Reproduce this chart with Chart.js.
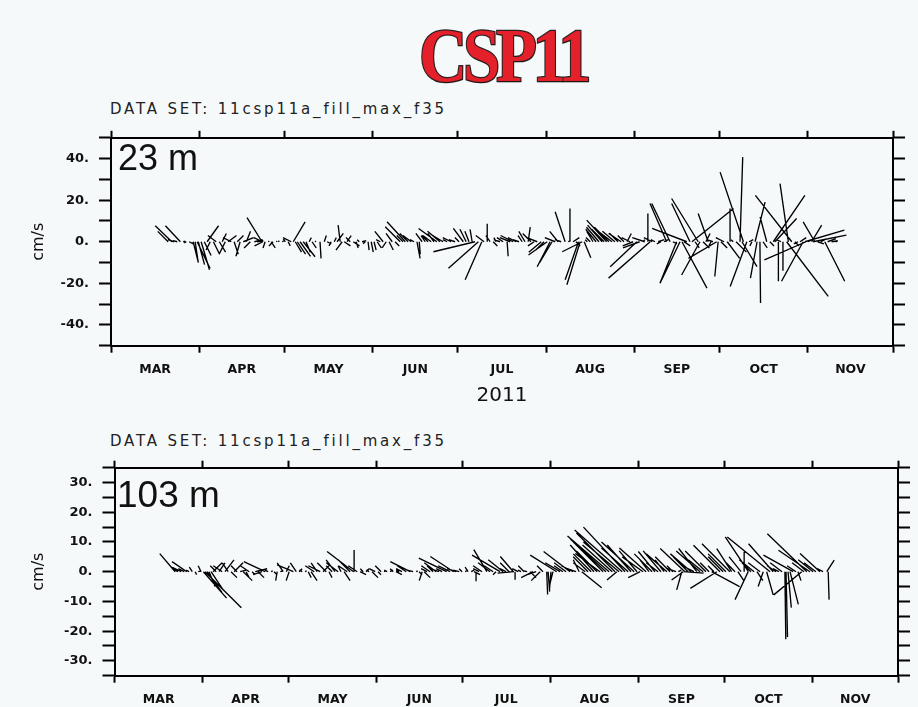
<!DOCTYPE html>
<html><head><meta charset="utf-8">
<script src="https://cdn.jsdelivr.net/npm/chart.js@4.4.1/dist/chart.umd.min.js"></script>
<style>
html,body{margin:0;padding:0;background:#f6f9fa;width:918px;height:707px;overflow:hidden;position:relative;}
.abs{position:absolute;white-space:nowrap;}
#title{left:503px;top:17px;font-family:"Liberation Serif",serif;font-weight:bold;font-size:77px;line-height:77px;color:#e4202a;letter-spacing:-5px;
  -webkit-text-stroke:2.4px #2b2323;paint-order:stroke fill;transform:translateX(-50%) scaleX(0.87);text-shadow:1px 1px 1px rgba(0,0,0,0.35);}
.ds{font-family:"DejaVu Sans",sans-serif;font-size:15px;line-height:15px;letter-spacing:2.8px;color:#222;}
.depth{font-family:"Liberation Sans",Arial,sans-serif;font-size:36px;line-height:36px;color:#111;}
canvas{display:block;}
</style></head><body>
<div id="title" class="abs">CSP11</div>
<div class="abs ds" style="left:110px;top:102px">DATA SET: 11csp11a_fill_max_f35</div>
<div class="abs ds" style="left:110px;top:434px">DATA SET: 11csp11a_fill_max_f35</div>
<div class="abs" style="left:0;top:120px;"><canvas id="c1" width="918" height="290"></canvas></div>
<div class="abs" style="left:0;top:440px;"><canvas id="c2" width="918" height="267"></canvas></div>
<div class="abs depth" style="left:118px;top:140px">23 m</div>
<div class="abs depth" style="left:117px;top:476px;font-size:37px;line-height:37px">103 m</div>
<script>
// ---- axis categories (days since 1 Mar 2011) ----
const monthStarts = [0, 31, 61, 92, 122, 153, 184, 214, 245, 275];
const monthLabels = ['MAR', 'APR', 'MAY', 'JUN', 'JUL', 'AUG', 'SEP', 'OCT', 'NOV'];
const yearLabel = '2011';
const unitsLabel = 'cm/s';

// ---- 23 m series: stick base day, east (u) and north (v) components, cm/s ----
const days23 = [20.1,21.4,22.2,23.3,24.4,25.4,26.5,27.5,28.9,29.6,30.3,30.7,31.7,32.8,33.8,34.9,36.0,37.0,38.1,39.1,40.2,41.2,42.3,43.3,44.4,45.4,46.5,47.6,49.0,50.4,51.4,53.1,53.2,53.4,54.2,55.3,56.3,57.0,58.1,59.2,60.2,61.3,62.3,63.4,64.1,64.8,65.5,66.5,67.6,68.6,69.7,70.7,72.1,73.5,75.0,76.0,77.4,78.5,79.5,80.6,81.3,82.0,83.0,84.1,85.2,86.2,87.3,88.3,89.4,90.4,91.5,92.5,93.6,94.7,95.7,96.8,97.8,98.9,99.9,101.7,102.7,103.5,104.5,105.6,106.6,107.6,108.4,109.4,110.5,111.5,112.6,113.6,114.6,115.7,116.8,118.2,119.6,121.0,122.4,123.9,124.9,125.9,127.0,128.0,129.2,130.4,131.2,132.3,133.3,134.4,135.4,136.8,137.9,139.3,140.4,141.4,142.5,143.5,144.6,145.6,146.7,147.7,148.8,149.9,151.3,152.3,153.4,154.4,155.1,156.2,157.2,158.3,159.7,160.8,161.4,162.5,163.5,164.4,165.0,165.7,166.4,167.5,168.5,169.5,170.6,171.6,172.7,173.4,174.3,175.1,176.2,177.2,178.3,179.4,180.4,181.5,182.5,183.6,184.9,185.9,187.0,187.7,188.8,189.6,190.3,191.3,192.4,193.4,194.5,195.4,196.6,197.6,198.9,200.1,200.8,201.5,202.5,203.6,204.3,205.4,206.5,207.1,208.2,209.2,210.0,211.0,211.7,213.0,213.5,214.5,215.6,216.7,217.7,218.8,219.8,221.2,221.9,222.4,223.6,224.4,225.4,226.5,227.2,228.2,229.3,230.6,231.7,232.9,233.5,234.7,235.6,236.3,237.6,238.2,239.4,240.5,241.6,242.3,243.4,244.0,244.4,245.1,246.4,246.9,247.5,248.5,249.6,251.0,252.0,253.4,254.8];
const u23 = [-5,-8,-3,-2,-7.2,1,-1,2,2.4,1.5,6.2,3,4,3.3,5.5,-2,3,-4,3,2,-3,4,-4,2,3,-2,5,2,-3,4,3,-7.2,-4,-4,-1,0.5,2,-2,0.5,-0.5,1,-1,1,-4,5.7,3,4,5,5.7,2,1,2,-0.5,0.5,1,2,-1,1,3,-1,-3,3,2,-2,3,1,-1,2,-1,0.5,1,1,2,-2,-4,-2,2,-3,2,-7.2,-3,-8.8,-4,-4,-2,1.5,0.5,-3,-2,-3,-4,-3,-8.8,-6,-5,-2,-4,-3,-2,-4.8,-3,-2,-1,-20,-14.4,-8,-4,0,-2,2,-1,-3,-3,0.5,-5,-6,-4,-3,-2,-3,1,-4,-3,-5,-6,-4,-9,-6.2,-6,-5,-4,-3,-4.8,1,0,3,2,-6.4,-6.4,-9.6,3.2,-1,-2,-3,-5,-6,-7,-6,-9.6,-7,-8,-6,-4,-6,-3,2,-4,-5,-12.8,-8,1,-6,0,-20,-4,-2,3,-2,2,-8,-8.8,2,-8,-9.6,12,3,-16.7,-8.8,20,2,-12.8,-8.8,3,2,-4.8,-1,-3,-13.6,-1.6,3,-4,6,0,-1,5,1.3,7.2,-11.2,-8,2,-1,4.8,-3.2,0.3,2,-3.2,2,15.2,10.4,0,-2,0,20,-4,-17.5,2,-2,3,-10.4,19,-20,2,4.8,16,-5.6,3,2,9.6,4,3,1];
const v23 = [5,7.7,1,0.5,7.7,0.3,-0.5,-1,-9.7,-10,-12.8,-11,-13.5,-6.6,7.7,-4,-6,3,-5,4,-6,3,2,-6,3,-7,2,5,-3,1,0.5,11.6,2,-2,-3,0.3,-3,-2,0.3,0.5,0.5,1.5,-2,2,9.6,-5,-6,-7,-7.2,-5,2,-3,0.3,-8,3,-1,-2,2,4,8,-4,-2,3,2,-2,-3,1,0.5,-1,-4,-5,-4,-3,1,5,-3,-4,4,-2,7.2,3,9.6,4,3,1,-8,-6,4,3,3,3,4,6.4,5,3,1,2,1,2,6.4,6,5,6,-4.8,-12.8,-18.3,3,8.6,3,-2,2,1,2,-7,2,3,2,1,3,5,7,4,-2,2,-5,-4,-6.4,-12,-10,2,5,1,14.4,0.5,16,2,-2,-18.3,-20.7,-4.8,-7.7,1,2,5,6,7,8,6,10.4,7,6,5,4,4,3,4,2,-2,-12,-3,1,2,13.6,-17.5,2,1,1,-1,1,18.4,18.4,-1,-20,-20,-22.3,-2,6.4,18.4,16,-3,20.8,-16,-3,4,13.6,-2,1,-8,-16.7,-3,2,-8,16,1,-5,40.7,-12,33.5,-21.5,1,-2,19.1,-17.5,-29.5,-3,12,-2,22.3,11.2,-19,1,-14,-26.3,28,22.3,-2,-1,2,-19,5.6,-8.7,1,8,3.2,9.6,-1,1,-19,1.5,0.5,0.3];

// ---- 103 m series ----
const days103 = [21.3,22.3,23.4,24.5,25.4,26.2,27.3,28.3,29.4,30.4,31.2,31.8,32.5,33.2,33.9,34.6,35.7,36.7,37.8,38.8,39.9,40.9,42.0,43.0,44.1,45.2,46.2,47.3,48.3,49.4,50.4,51.8,52.9,53.9,55.0,56.0,57.1,58.2,59.2,60.3,61.3,62.8,63.8,64.8,65.9,66.9,68.0,69.0,70.1,71.1,72.2,73.2,74.3,75.3,76.4,77.4,78.5,79.5,80.6,81.7,82.7,83.9,84.1,85.2,86.2,87.3,88.3,89.4,90.4,91.5,92.5,93.6,94.6,95.7,96.7,97.8,98.8,99.9,100.9,102.4,103.8,104.8,105.9,106.9,108.0,108.7,109.7,110.8,111.8,112.9,113.9,115.0,116.6,117.8,119.0,119.9,121.0,122.0,123.1,124.1,125.2,126.2,126.9,128.0,129.0,130.7,131.8,132.9,133.9,135.3,136.4,137.4,138.5,140.0,140.2,140.6,141.7,142.7,143.8,144.8,145.9,146.9,148.0,149.4,150.4,151.7,152.2,153.2,153.9,155.2,156.4,157.4,158.5,159.9,161.0,162.0,163.1,164.0,165.2,166.2,167.3,168.3,169.4,170.4,171.5,172.5,173.6,174.7,175.7,176.3,177.1,178.2,179.2,180.3,181.3,182.4,183.4,184.5,185.5,186.6,187.6,188.7,189.7,190.8,191.8,192.9,193.9,195.0,196.0,197.1,197.9,199.1,199.6,199.8,200.2,201.3,202.4,203.4,204.4,205.5,206.6,207.6,208.7,209.6,210.4,211.4,212.5,213.6,214.6,216.0,216.6,217.8,218.8,219.9,221.0,222.4,222.5,223.4,224.5,225.5,226.6,227.7,228.9,230.1,231.2,232.2,233.2,234.3,235.3,235.7,236.4,237.1,238.2,239.2,239.9,241.2,242.0,243.0,244.1,245.2,246.2,247.6,248.7,250.0,250.5];
const u103 = [-5.2,-2,-3,-2,-5,-1,-1,0.5,1,-1,7.8,12.2,5,2,4,3,-2,2,-3,3,-2,2,3,-2,2,3,1,-3,1,4,2,-3,-7.2,-1,0.5,1,-0.5,1,-2,1,-1,-5.5,-2,1,-1,0.5,1,2,-3,-2,-4,2,-3,1,-2,-3,-4,-1,2,-3,-4,-8.9,0,-3,2,-1,1,-1,2,-2,1,-2,0.5,-1,1,-1,2,-1,-2,-3,-6.7,-2,0.5,1,-1,2,-2,-3,-2,-4,-3,-2,-9.4,-4,-7.8,-3,-2,-1,0.5,-1,1,2,0,-2,-3,-4.4,-4,-3,-1,-9.4,-5,-2,-3,-4.4,-5.5,0,-2,-1,-2,-1,2,-4,-3,-3,-2,0.3,0.5,-0.5,-1,-8.9,-5,-3,-4,-8.9,-4,-3,-2,6.7,-4,-5,-6,-8,-7,-8.3,-10,-12,-14,-10,-13,-3.3,-12,-16,-14,-9,-8,-11,-6,-4,-7,-9,-3,-6,-5.6,-4,-6,-3,-7,-5,-2,-3,1,-1.7,-3.9,6.7,-8.3,-5,-7,-4,-6.1,-8,-5,-7,-3,9.4,-2,-8.9,-8.9,-5,-6,-9.4,-5,-3,2,-4,0,-4.4,-7.8,-3,-5,2,-4,-1.7,2.2,-14.4,-8.3,-3,-2,-4,0.3,0.5,1.1,2.8,-10,-3,1,-9.4,-4,-13.3,-10.6,-5,-4,-6.7,-2,2.5,0.3];
const v103 = [6.1,1,1.5,1,3.4,0.5,1.5,-1,0.3,2,-8.9,-12.1,-7,-5,-6,3,2,3,2,4,3,-2,3,2,0.5,-3,-2,2,-1,1,-2,-1,3.4,0.5,0.3,-1,-3,0.3,3,2,-3,2.3,3,1,0.5,0.3,-2,-3,2,3,2,2,3,-2,2,4,3,2,-3,2,4,6.8,7.3,2,-1,1,1,0.5,-2,1,-1,2,0.3,0.5,0.5,1,-1,0.5,1,2,3.4,0.5,0.3,-1,-3,-2,1,2,2,3,1,1,4.6,2,5.1,1,0.5,1,0.3,1.5,0.5,-1,-3.2,1,2,7.4,3,2,-1,5.6,4,1,3,5.1,-0.5,-2.7,1,0.5,2,0.3,-2,-2,-1,-3,2,-7.7,-6.7,-6,-4,5.6,3,2,3,6.8,2,1,4,-5.4,3,5,6,9,7,6.1,10,11,12,9,13,-2.8,10,14,15,8,9,10,7,-2,5,8,4,6,6.8,3,7,4,6,5,2,1,0.5,-6.1,-2.8,-0.5,7.8,5,6,2,7.8,7,4,7,3,-5,2,-5.6,8.9,5,6,9.4,7.8,3,-3,5,6.7,-9.4,11.7,3,4,-3,3,-5,-7.8,11.7,9.4,2,1,3,-22.7,-22,-12.1,-11,5.6,2,-3,-7.8,3,12.8,7.2,4,3,6.1,1,3.9,-9.4];

function buildSticks(days, u, v, k) {
  const pts = [];
  for (let i = 0; i < days.length; i++) {
    pts.push({x: days[i], y: 0});
    pts.push({x: days[i] + u[i] * k, y: v[i]});
    pts.push({x: days[i], y: null});
  }
  return pts;
}

const tickFont = {family: 'DejaVu Sans', weight: 'bold', size: 13};
const monthFont = {family: 'DejaVu Sans', weight: 'bold', size: 12.5};

function makePanel(id, cfg) {
  const mids = monthLabels.map((m, i) => (monthStarts[i] + monthStarts[i + 1]) / 2);
  const allTicks = monthStarts.concat(mids).sort((a, b) => a - b);
  const gridBase = {display: true, drawOnChartArea: false, drawTicks: true, color: '#000', tickWidth: 2, tickColor: '#000'};
  const border = {display: true, color: '#000', width: 2};
  const chart = new Chart(document.getElementById(id), {
    type: 'line',
    data: {datasets: [{data: [], borderColor: '#000', borderWidth: 1.35, pointRadius: 0, tension: 0, fill: false, spanGaps: false, xAxisID: 'x', yAxisID: 'y'}]},
    options: {
      responsive: false, animation: false, events: [],
      layout: {padding: 0},
      plugins: {legend: {display: false}, tooltip: {enabled: false}},
      scales: {
        x: {
          type: 'linear', position: 'bottom', min: 0, max: 275,
          afterBuildTicks: s => { s.ticks = allTicks.map(v => ({value: v})); },
          afterFit: s => { s.height = cfg.bottomH; },
          ticks: {autoSkip: false, maxRotation: 0, minRotation: 0, padding: cfg.monthPad, font: monthFont, color: '#111',
            callback: v => { const i = mids.indexOf(v); return i >= 0 ? monthLabels[i] : ''; }},
          grid: Object.assign({}, gridBase, {tickLength: 7,
            tickColor: c => (c.tick && monthStarts.includes(c.tick.value)) ? '#000' : 'rgba(0,0,0,0)'}),
          border: border,
          title: {display: cfg.showYear, text: yearLabel, font: {family: 'DejaVu Sans', size: 20}, color: '#111', padding: {top: 0, bottom: cfg.yearPad}}
        },
        xTop: {
          type: 'linear', position: 'top', min: 0, max: 275,
          afterBuildTicks: s => { s.ticks = monthStarts.map(v => ({value: v})); },
          afterFit: s => { s.height = cfg.topH; },
          ticks: {display: false, autoSkip: false},
          grid: Object.assign({}, gridBase, {tickLength: 7}),
          border: border
        },
        y: {
          type: 'linear', position: 'left', min: cfg.yMin, max: cfg.yMax,
          afterFit: s => { s.width = cfg.leftW; },
          ticks: {autoSkip: false, stepSize: cfg.yStep, padding: cfg.yPad, font: tickFont, color: '#111',
            callback: v => (Math.abs(v % cfg.yLabelStep) < 1e-6 && Math.abs(v) < cfg.yMax) ? v + '.' : ''},
          grid: Object.assign({}, gridBase, {tickLength: 12}),
          border: border,
          title: {display: true, text: unitsLabel, font: {family: 'DejaVu Sans', size: 16}, color: '#111', padding: {top: cfg.unitsPad, bottom: 0}}
        },
        yRight: {
          type: 'linear', position: 'right', min: cfg.yMin, max: cfg.yMax,
          afterFit: s => { s.width = cfg.rightW; },
          ticks: {display: false, autoSkip: false, stepSize: cfg.yStep},
          grid: Object.assign({}, gridBase, {tickLength: 12}),
          border: border
        }
      }
    }
  });
  const xs = chart.scales.x, ys = chart.scales.y;
  const k = (ys.getPixelForValue(0) - ys.getPixelForValue(1)) / (xs.getPixelForValue(1) - xs.getPixelForValue(0));
  chart.data.datasets[0].data = buildSticks(cfg.days, cfg.u, cfg.v, k);
  chart.update('none');
  return chart;
}

makePanel('c1', {days: days23, u: u23, v: v23, yMin: -50, yMax: 50, yStep: 10, yLabelStep: 20,
  topH: 17.3, bottomH: 64.3, leftW: 111, rightW: 25, monthPad: 10, yPad: 10, unitsPad: 29, showYear: true, yearPad: 2});
makePanel('c2', {days: days103, u: u103, v: v103, yMin: -35, yMax: 35, yStep: 5, yLabelStep: 10,
  topH: 27.7, bottomH: 31.3, leftW: 114.5, rightW: 20, monthPad: 9.5, yPad: 10, unitsPad: 29, showYear: false, yearPad: 4});
</script>
</body></html>
